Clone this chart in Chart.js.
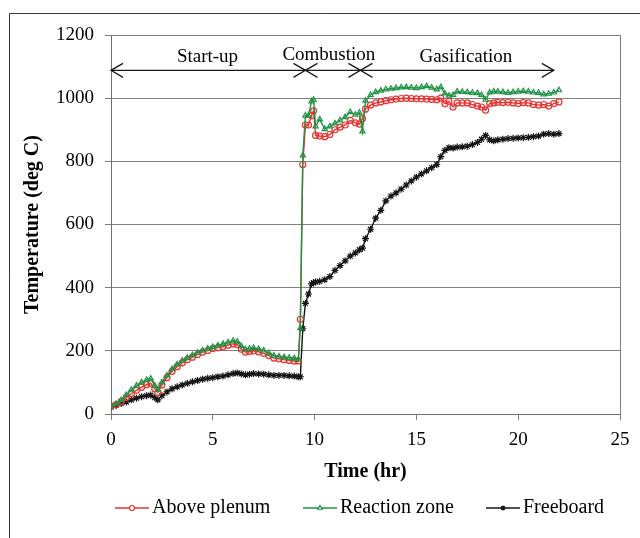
<!DOCTYPE html>
<html><head><meta charset="utf-8">
<script src="https://cdn.jsdelivr.net/npm/chart.js@4.4.1/dist/chart.umd.min.js"></script>
<style>html,body{margin:0;padding:0;background:#fff;}#wrap{position:relative;width:640px;height:538px;}</style>
</head><body><div id="wrap"><canvas id="c" width="640" height="538"></canvas></div>
<script>
const times = [0,0.25,0.5,0.75,1,1.25,1.5,1.75,1.95,2.15,
  2.3,2.5,2.75,3,3.25,3.5,3.75,4,4.25,4.5,
  4.75,5,5.25,5.5,5.75,6,6.2,6.4,6.6,6.8,
  7,7.25,7.5,7.75,8,8.25,8.5,8.75,9,9.2,
  9.3,9.42,9.55,9.7,9.85,9.95,10.05,10.25,10.5,10.75,
  11,11.25,11.5,11.75,12,12.2,12.35,12.5,12.75,13,
  13.25,13.5,13.75,14,14.25,14.5,14.75,15,15.25,15.5,
  15.75,16,16.2,16.4,16.6,16.8,17,17.25,17.5,17.75,
  18,18.2,18.4,18.6,18.8,19,19.25,19.5,19.75,20,
  20.25,20.5,20.75,21,21.25,21.5,21.75,22];
const abovePlenum = [25,30,40,52,65,75,85,93,97,80,
  68,92,115,135,150,162,172,180,188,196,
  201,207,210,213,218,222,220,205,196,198,
  200,197,192,185,177,175,172,170,168,168,
  300,790,915,915,945,960,882,880,878,885,
  900,908,915,930,922,918,935,965,978,985,
  988,992,995,997,999,1000,999,998,998,997,
  996,995,1000,982,990,972,985,985,985,980,
  975,972,962,983,985,987,986,987,985,983,
  986,985,980,978,980,975,983,988];
const reactionZone = [25,32,44,60,77,90,100,108,112,90,
  77,100,122,142,157,169,178,186,194,201,
  207,212,217,222,227,232,229,215,205,207,
  209,206,201,193,185,182,180,178,177,172,
  272,819,945,945,990,995,911,933,902,911,
  920,930,940,956,948,954,895,992,1010,1019,
  1024,1028,1030,1032,1034,1035,1033,1032,1035,1038,
  1033,1028,1035,1015,1008,1010,1021,1020,1019,1017,
  1016,1010,995,1018,1021,1021,1019,1017,1019,1021,
  1022,1021,1018,1017,1012,1014,1018,1025];
const freeboard = [22,27,33,38,45,50,55,58,60,52,
  45,58,70,80,86,92,97,102,106,110,
  113,115,118,120,124,128,130,127,124,126,
  128,127,126,124,122,122,122,121,120,118,
  118,270,350,380,412,416,418,420,425,435,
  455,470,485,500,510,520,525,555,585,620,
  645,675,690,700,712,725,738,750,760,770,
  780,790,815,835,843,842,845,846,848,853,
  860,870,882,868,865,868,870,872,873,874,
  875,876,878,880,886,888,886,888];
const seriesNames = ['Above plenum','Reaction zone','Freeboard'];
const xTickValues = [0,5,10,15,20,25];
const yTickValues = [0,200,400,600,800,1000,1200];
const phaseNames = ['Start-up','Combustion','Gasification'];
const phaseBounds = [0,9.55,12.25,21.75];
const phaseLabelX = [4.74,10.7,17.43];
const phaseLabelY = [1130,1137,1130];
const phaseArrowY = 1088;

const SERIF = "'Liberation Serif','Times New Roman',serif";
const colors = ['#e8322f','#1e9446','#151515'];
const markers = ['circle','triangle','star'];

function pts(vals){ return times.map((t,i)=>({x:t,y:vals[i]})); }
const seriesData = [abovePlenum, reactionZone, freeboard];
const datasets = seriesData.map((v,i)=>({
  label: seriesNames[i],
  data: pts(v),
  borderColor: colors[i],
  backgroundColor: colors[i],
  pointBorderColor: colors[i],
  pointBackgroundColor: 'rgba(255,255,255,0)',
  pointStyle: markers[i],
  pointRadius: i===2 ? 3.5 : 3,
  pointBorderWidth: 1.2,
  borderWidth: 1.4,
  tension: 0,
  order: [1,0,2][i]
}));

const framePlugin = {
  id:'frame',
  beforeDraw(chart){
    const ctx = chart.ctx;
    ctx.save();
    ctx.fillStyle = '#fff';
    ctx.fillRect(0,0,chart.width,chart.height);
    ctx.strokeStyle = '#3a3a3a';
    ctx.lineWidth = 1;
    ctx.beginPath();
    ctx.moveTo(9.5, chart.height);
    ctx.lineTo(9.5, 13.5);
    ctx.lineTo(chart.width, 13.5);
    ctx.stroke();
    ctx.restore();
  },
  beforeDatasetsDraw(chart){
    const {ctx, chartArea:a} = chart;
    ctx.save();
    ctx.strokeStyle = '#808080';
    ctx.lineWidth = 1;
    ctx.beginPath();
    ctx.moveTo(Math.round(a.right)+0.5, a.top);
    ctx.lineTo(Math.round(a.right)+0.5, a.bottom);
    ctx.stroke();
    ctx.restore();
  },
  afterDatasetsDraw(chart){
    const ctx = chart.ctx, xs = chart.scales.x, ys = chart.scales.y;
    ctx.save();
    ctx.strokeStyle = '#1a1a1a';
    ctx.lineWidth = 1.3;
    const y = ys.getPixelForValue(phaseArrowY);
    const x0 = xs.getPixelForValue(phaseBounds[0]);
    const x3 = xs.getPixelForValue(phaseBounds[phaseBounds.length-1]);
    ctx.beginPath(); ctx.moveTo(x0,y); ctx.lineTo(x3,y); ctx.stroke();
    const w = 12, h = 7;
    function head(x, dir){
      ctx.beginPath();
      ctx.moveTo(x - dir*w, y - h);
      ctx.lineTo(x, y);
      ctx.lineTo(x - dir*w, y + h);
      ctx.stroke();
    }
    head(x0,-1);
    for (let i=1;i<phaseBounds.length-1;i++){
      const xb = xs.getPixelForValue(phaseBounds[i]);
      head(xb,1); head(xb,-1);
    }
    head(x3,1);
    ctx.fillStyle = '#000';
    ctx.font = '19px ' + SERIF;
    ctx.textAlign = 'center';
    ctx.textBaseline = 'middle';
    phaseNames.forEach((n,i)=>{
      ctx.fillText(n, xs.getPixelForValue(phaseLabelX[i]), ys.getPixelForValue(phaseLabelY[i]));
    });
    ctx.restore();
  },
  afterDraw(chart){
    const ctx = chart.ctx;
    ctx.save();
    const starts = [115,303,486];
    const yy = 508;
    chart.data.datasets.forEach((ds,i)=>{
      const sx = starts[i];
      ctx.strokeStyle = ds.borderColor;
      ctx.lineWidth = 1.4;
      ctx.beginPath(); ctx.moveTo(sx,yy); ctx.lineTo(sx+34,yy); ctx.stroke();
      ctx.fillStyle = '#fff';
      ctx.strokeStyle = ds.borderColor;
      ctx.lineWidth = 1.2;
      Chart.helpers.drawPoint(ctx, {pointStyle: ds.pointStyle, radius: 2.5, borderWidth: 1.2}, sx+17, yy);
      ctx.fillStyle = '#000';
      ctx.font = '20px ' + SERIF;
      ctx.textAlign = 'left';
      ctx.textBaseline = 'middle';
      ctx.fillText(ds.label, sx+37, yy);
    });
    ctx.restore();
  }
};

new Chart(document.getElementById('c'), {
  type: 'line',
  data: { datasets },
  options: {
    responsive: false,
    animation: false,
    devicePixelRatio: 1,
    layout: { padding: { left: 0, right: 20, top: 35, bottom: 54 } },
    plugins: { legend: { display: false }, tooltip: { enabled: false } },
    scales: {
      x: {
        type: 'linear', min: 0, max: 25,
        afterBuildTicks(s){ s.ticks = xTickValues.map(v=>({value:v})); },
        afterFit(s){ s.height = 70; },
        grid: { drawOnChartArea: false, drawTicks: true, tickLength: 6, color: '#808080' },
        border: { color: '#707070', width: 1 },
        ticks: { color: '#000', padding: 9, font: { family: SERIF, size: 19 }, callback: v => String(v) },
        title: { display: true, text: 'Time (hr)', color: '#000', padding: { top: 0, bottom: 0 }, font: { family: SERIF, size: 20, weight: 'bold' } }
      },
      y: {
        min: 0, max: 1200,
        afterBuildTicks(s){ s.ticks = yTickValues.map(v=>({value:v})); },
        afterFit(s){ s.width = 111; },
        grid: { color: '#808080', tickLength: 6, lineWidth: 1 },
        border: { color: '#707070', width: 1 },
        ticks: { color: '#000', padding: 11, font: { family: SERIF, size: 19 }, callback: v => String(v) },
        title: { display: true, text: 'Temperature (deg C)', color: '#000', padding: { top: 21, bottom: 0 }, font: { family: SERIF, size: 20, weight: 'bold' } }
      }
    }
  },
  plugins: [framePlugin]
});
</script></body></html>
